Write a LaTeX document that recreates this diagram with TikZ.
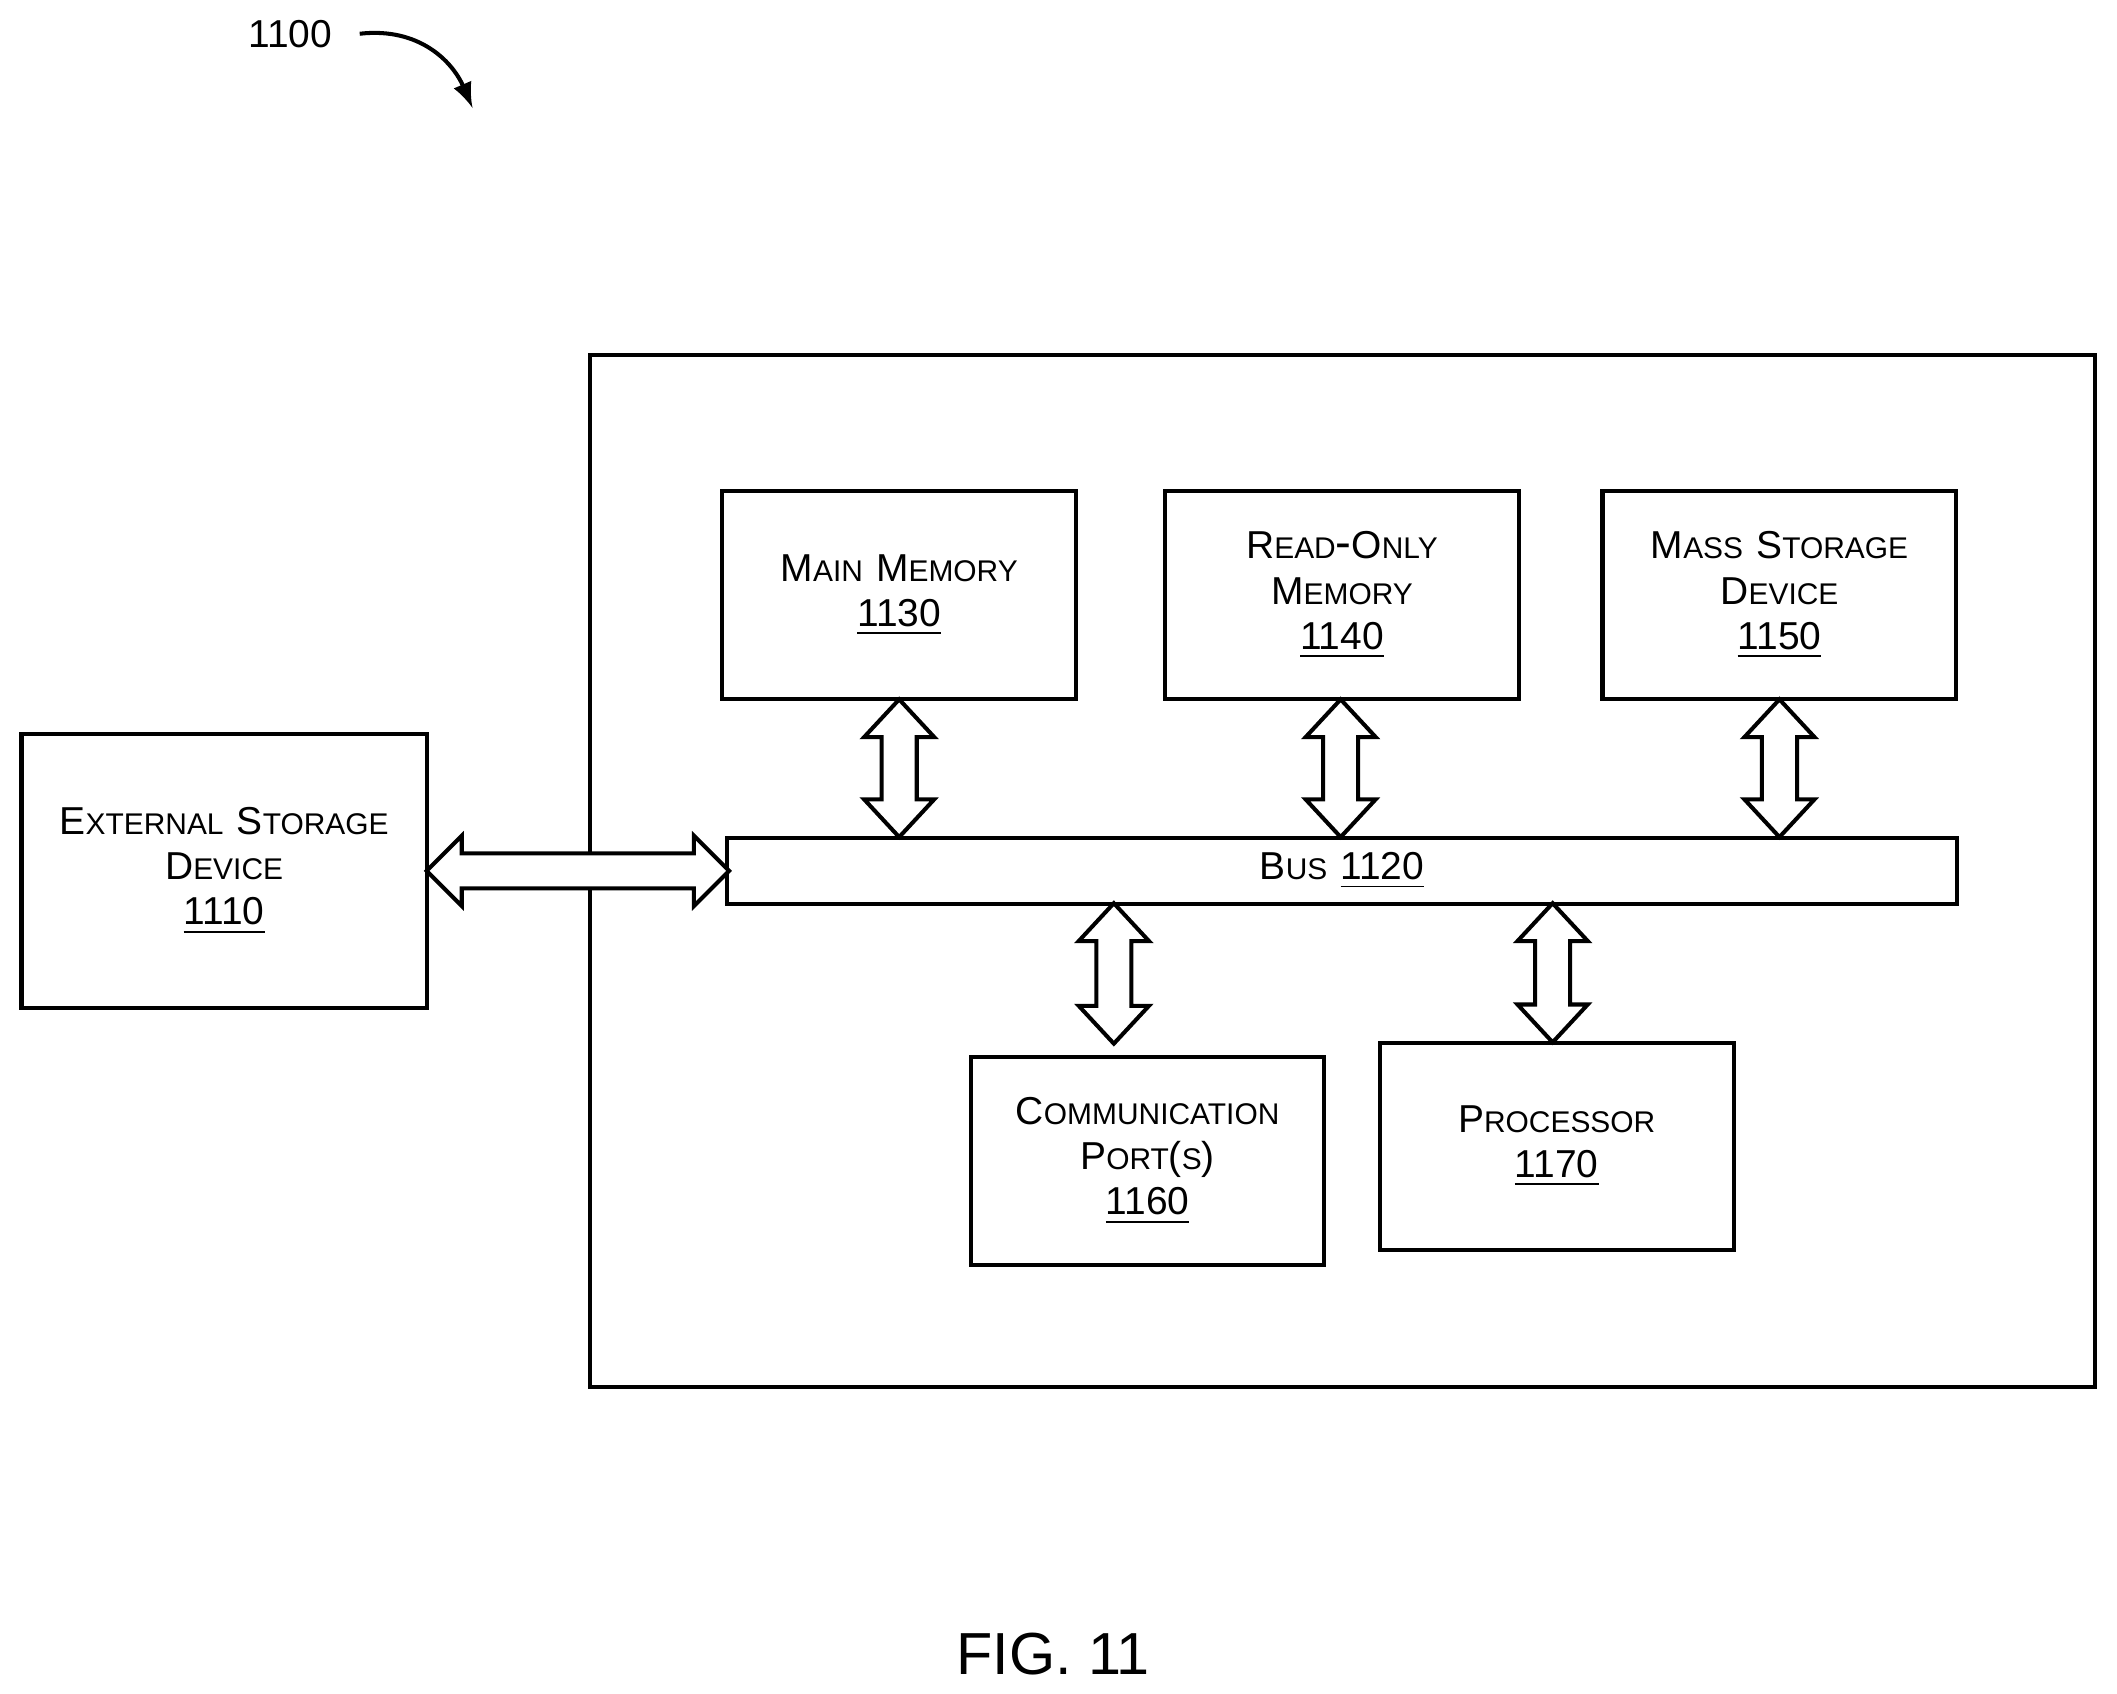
\documentclass[tikz,border=0pt]{standalone}
\usepackage{fontspec}
\setmainfont{Liberation Sans}
\usetikzlibrary{positioning}
\newcommand{\sca}[2]{{\fontsize{8.2}{10}\selectfont #1}{\fontsize{6.3}{10}\selectfont #2}}
% hollow double arrows: \vdarr{x}{ytop}{ybottom}, \hdarr{y}{xleft}{xright}
\newcommand{\vdarr}[3]{\draw[blk] (#1,#2) -- (#1+26,#2+28) -- (#1+13,#2+28) -- (#1+13,#3-28) -- (#1+26,#3-28) -- (#1,#3) -- (#1-26,#3-28) -- (#1-13,#3-28) -- (#1-13,#2+28) -- (#1-26,#2+28) -- cycle;}
\newcommand{\hdarr}[3]{\draw[blk] (#2,#1) -- (#2+26,#1-26) -- (#2+26,#1-13) -- (#3-26,#1-13) -- (#3-26,#1-26) -- (#3,#1) -- (#3-26,#1+26) -- (#3-26,#1+13) -- (#2+26,#1+13) -- (#2+26,#1+26) -- cycle;}
\begin{document}
\begin{tikzpicture}[x=0.01cm,y=-0.01cm,
    box/.style={draw,line width=0.85pt,align=center,inner sep=0pt},
    blk/.style={draw,line width=0.85pt,fill=white,line join=miter}]
  \useasboundingbox (0,0) rectangle (1568,1254);
  \draw[line width=0.85pt] (437,263) rectangle (1552,1027);

  \node[box,minimum width=2.62cm,minimum height=1.54cm] (mm) at (666,441)
    {\sca{M}{AIN} \sca{M}{EMORY}\\[-2.5pt] {\fontsize{8.2}{10}\selectfont\underline{1130}}};
  \node[box,minimum width=2.62cm,minimum height=1.54cm] (rom) at (994,441)
    {\sca{R}{EAD}-\sca{O}{NLY}\\[-2.5pt] \sca{M}{EMORY}\\[-2.5pt] {\fontsize{8.2}{10}\selectfont\underline{1140}}};
  \node[box,minimum width=2.62cm,minimum height=1.54cm] (msd) at (1318,441)
    {\sca{M}{ASS} \sca{S}{TORAGE}\\[-2.5pt] \sca{D}{EVICE}\\[-2.5pt] {\fontsize{8.2}{10}\selectfont\underline{1150}}};
  \node[box,minimum width=3.00cm,minimum height=2.03cm] (ext) at (166,645)
    {\sca{E}{XTERNAL} \sca{S}{TORAGE}\\[-2.5pt] \sca{D}{EVICE}\\[-2.5pt] {\fontsize{8.2}{10}\selectfont\underline{1110}}};
  \node[box,minimum width=9.11cm,minimum height=0.49cm] (bus) at (994,645)
    {\sca{B}{US} {\fontsize{8.2}{10}\selectfont\underline{1120}}};
  \node[box,minimum width=2.61cm,minimum height=1.54cm] (com) at (850,860)
    {\sca{C}{OMMUNICATION}\\[-2.5pt] \sca{P}{ORT}{\fontsize{8.2}{10}\selectfont(}\sca{}{S}{\fontsize{8.2}{10}\selectfont)}\\[-2.5pt] {\fontsize{8.2}{10}\selectfont\underline{1160}}};
  \node[box,minimum width=2.62cm,minimum height=1.53cm] (proc) at (1153,849)
    {\sca{P}{ROCESSOR}\\[-2.5pt] {\fontsize{8.2}{10}\selectfont\underline{1170}}};

  \vdarr{666}{518}{620}
  \vdarr{993}{518}{620}
  \vdarr{1318}{518}{620}
  \vdarr{825}{669}{773}
  \vdarr{1150}{669}{772}
  \hdarr{645}{316}{540}

  \node (lbl) at (215,25) {\fontsize{8.2}{10}\selectfont 1100};
  \draw[line width=0.85pt,-latex] (lbl.east) ++(8,0) .. controls (310,20) and (335,45) .. (350,80);
  \node (fig) at (780,1225) {\fontsize{12.5}{14}\selectfont FIG. 11};
\end{tikzpicture}
\end{document}
